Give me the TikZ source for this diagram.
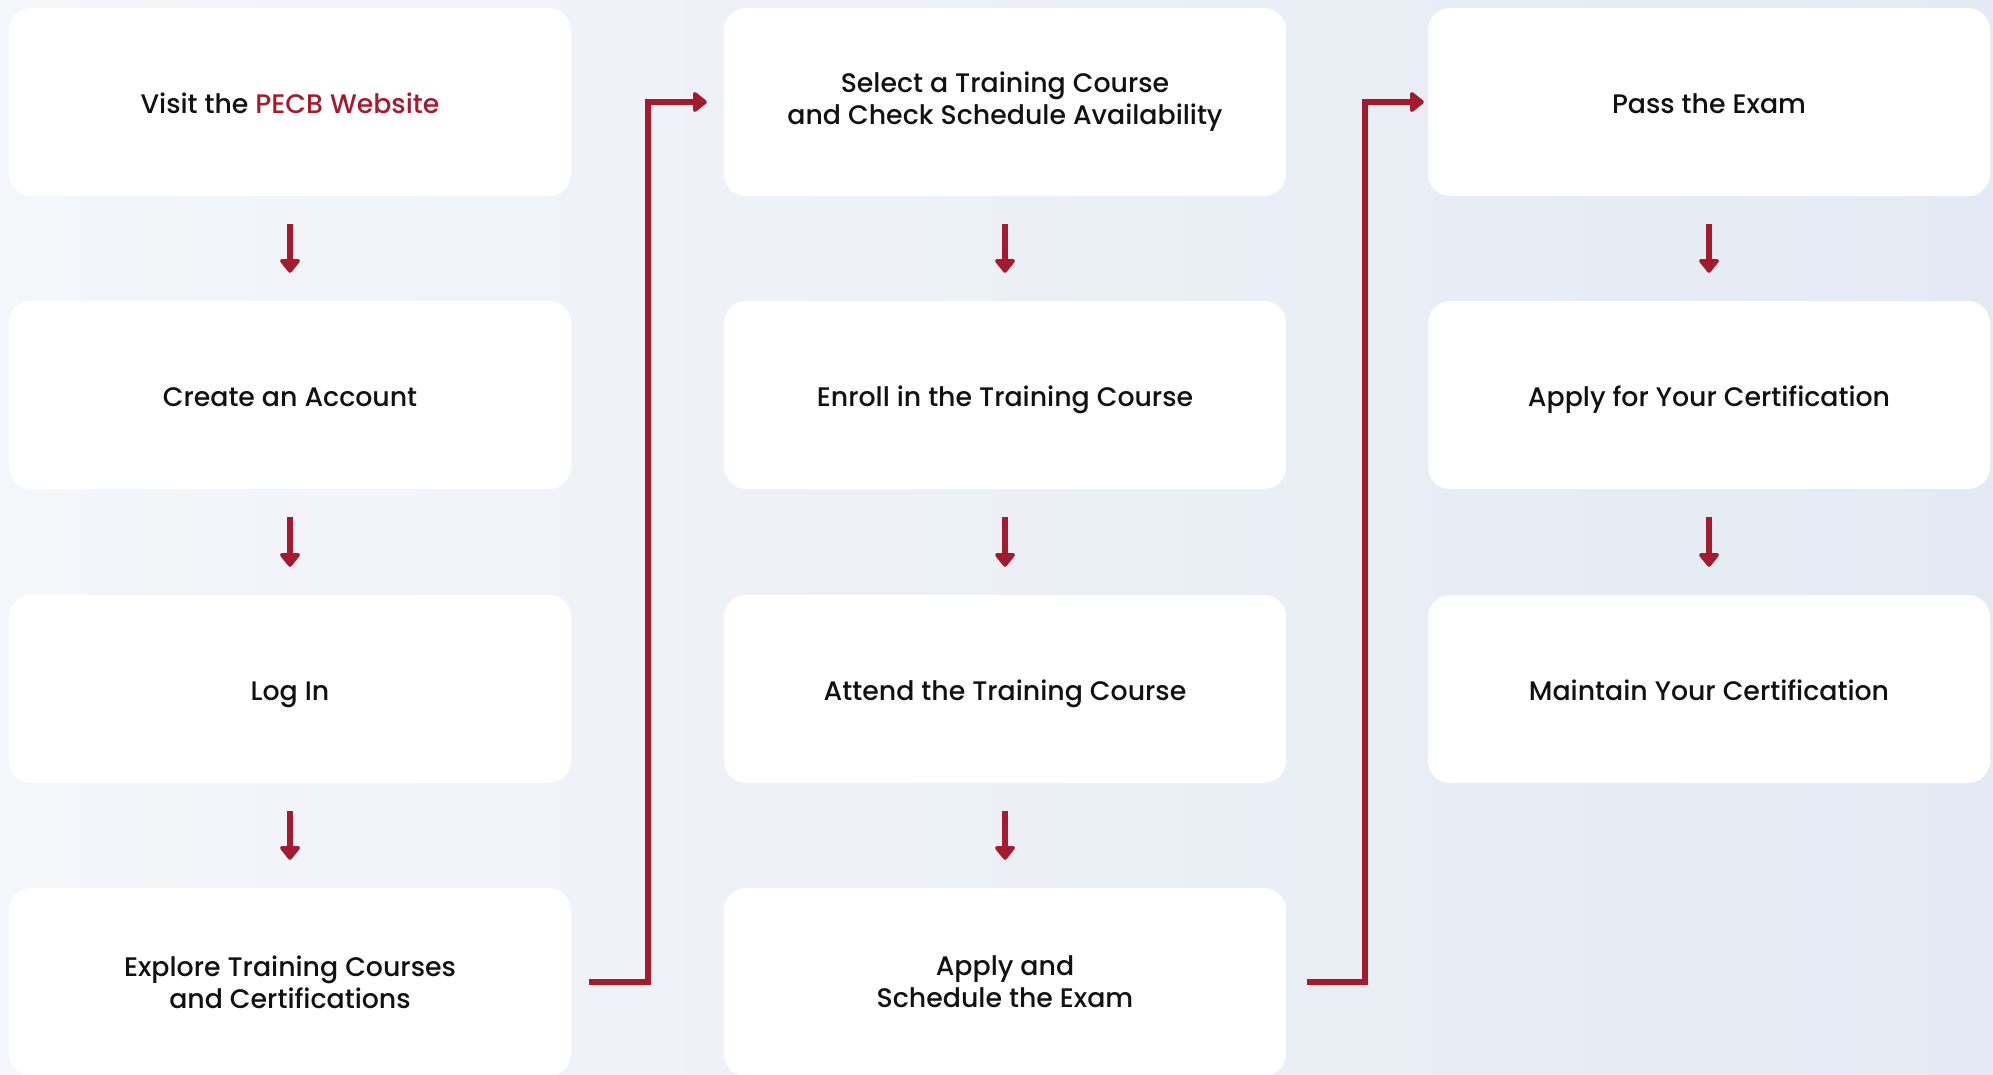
\documentclass[tikz,border=0pt]{standalone}
\usepackage{fontspec}
\setmainfont{Poppins Medium}
\usetikzlibrary{arrows.meta}
\definecolor{pecbred}{RGB}{163,27,45}
\definecolor{bgL}{RGB}{244,246,250}
\definecolor{bgR}{RGB}{228,234,243}
\definecolor{txt}{RGB}{17,17,17}
\begin{document}
\begin{tikzpicture}[x=1pt,y=-1pt,
  stepbox/.style={fill=white, rounded corners=22pt, minimum width=562pt, minimum height=188pt,
    align=center, font=\fontsize{26.8}{32}\selectfont, text=txt, inner sep=0pt},
  onebox/.style={stepbox, text height=28pt, text depth=6pt},
  flow/.style={draw=pecbred, line width=5.5pt, -{Triangle[length=15pt,width=23pt,round]}},
]
\shade[left color=bgL, right color=bgR] (0,0) rectangle (1993,1074);
\useasboundingbox (0,0) rectangle (1993,1074);

\node[onebox] (a1) at (290,102) {Visit the \textcolor{pecbred}{PECB Website}};
\node[onebox] (a2) at (290,395) {Create an Account};
\node[onebox] (a3) at (290,689) {Log In};
\node[stepbox] (a4) at (290,982) {Explore Training Courses\\and Certifications};

\node[stepbox] (b1) at (1005,102) {Select a Training Course\\and Check Schedule Availability};
\node[onebox] (b2) at (1005,395) {Enroll in the Training Course};
\node[onebox] (b3) at (1005,689) {Attend the Training Course};
\node[stepbox] (b4) at (1005,982) {Apply and\\Schedule the Exam};

\node[onebox] (c1) at (1709,102) {Pass the Exam};
\node[onebox] (c2) at (1709,395) {Apply for Your Certification};
\node[onebox] (c3) at (1709,689) {Maintain Your Certification};

\foreach \u/\v in {a1/a2,a2/a3,a3/a4,b1/b2,b2/b3,b3/b4,c1/c2,c2/c3}
  \draw[flow] ([yshift=-28pt]\u.south) -- ([yshift=28pt]\v.north);

\draw[flow] ([xshift=18pt]a4.east) -- ++(59,0) |- ([xshift=-17pt]b1.west);
\draw[flow] ([xshift=21pt]b4.east) -- ++(58,0) |- ([xshift=-4pt]c1.west);
\end{tikzpicture}
\end{document}
